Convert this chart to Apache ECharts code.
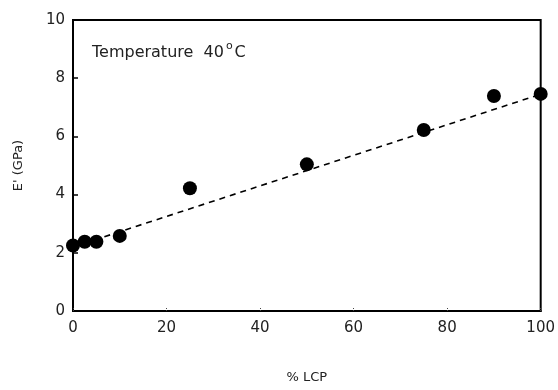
<!DOCTYPE html>
<html>
<head>
<meta charset="utf-8">
<script src="https://cdn.jsdelivr.net/npm/echarts@6/dist/echarts.min.js"></script>
<style>html,body{margin:0;padding:0;background:#fff}#c{width:558px;height:390px}</style>
</head>
<body>
<div id="c"></div>
<script>
// Data
const lcpPercent = [0, 2.5, 5, 10, 25, 50, 75, 90, 100];
const storageModulus = [2.25, 2.38, 2.38, 2.58, 4.22, 5.04, 6.22, 7.39, 7.46];
const fitX = [0, 100];
const fitY = [2.2, 7.45];
const xTicks = [0, 20, 40, 60, 80, 100];
const yTicks = [0, 2, 4, 6, 8, 10];

const FONT = 'DejaVu Sans';
const chart = echarts.init(document.getElementById('c'), null, {renderer: 'canvas'});

const labelStyle = {color: '#222', fontSize: 15, fontFamily: FONT};

chart.setOption({
  animation: false,
  backgroundColor: '#fff',
  title: {
    text: '{a|Temperature  40}{s|o}{a|C}',
    left: 92, top: 41, padding: 0,
    textStyle: {
      fontWeight: 'normal',
      rich: {
        a: {fontSize: 16, fontFamily: FONT, color: '#222', fontWeight: 'normal', lineHeight: 20, verticalAlign: 'bottom'},
        s: {fontSize: 11, fontFamily: FONT, color: '#222', fontWeight: 'normal', lineHeight: 10, verticalAlign: 'top', padding: [0, 2, 0, 2]}
      }
    }
  },
  grid: {left: 73, right: 15, top: 20, bottom: 79, show: true, borderColor: '#000', borderWidth: 2, backgroundColor: 'transparent'},
  xAxis: {
    type: 'value', min: xTicks[0], max: xTicks[xTicks.length - 1], interval: xTicks[1] - xTicks[0],
    name: '% LCP', nameLocation: 'middle', nameGap: 60,
    nameTextStyle: {color: '#222', fontSize: 13, fontFamily: FONT},
    axisLine: {show: true, onZero: false, lineStyle: {color: '#000', width: 2}},
    axisTick: {show: true, inside: true, length: 4, lineStyle: {color: '#444', type: 'dotted', width: 1}},
    axisLabel: Object.assign({margin: 10}, labelStyle),
    splitLine: {show: false}
  },
  yAxis: {
    type: 'value', min: yTicks[0], max: yTicks[yTicks.length - 1], interval: yTicks[1] - yTicks[0],
    name: "E' (GPa)", nameLocation: 'middle', nameGap: 48,
    nameTextStyle: {color: '#222', fontSize: 13, fontFamily: FONT},
    axisLine: {show: true, onZero: false, lineStyle: {color: '#000', width: 2}},
    axisTick: {show: true, inside: true, length: 5, lineStyle: {color: '#000', width: 1.5}},
    axisLabel: Object.assign({margin: 8}, labelStyle),
    splitLine: {show: false}
  },
  series: [
    {
      type: 'line',
      data: fitX.map((x, i) => [x, fitY[i]]),
      symbol: 'none',
      lineStyle: {color: '#000', width: 1.6, type: [6, 5]},
      z: 2
    },
    {
      type: 'scatter',
      data: lcpPercent.map((x, i) => [x, storageModulus[i]]),
      symbol: 'circle',
      symbolSize: 14,
      itemStyle: {color: '#000', opacity: 1},
      z: 3
    }
  ]
});
</script>
</body>
</html>
